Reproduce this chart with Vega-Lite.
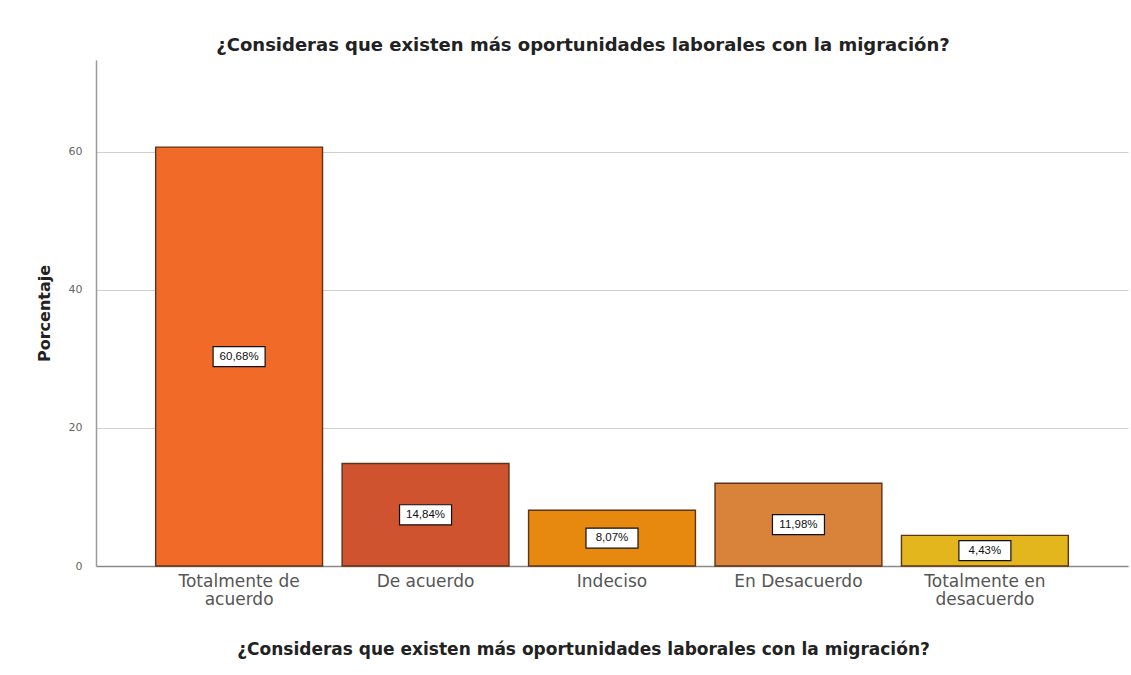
{
  "$schema": "https://vega.github.io/schema/vega-lite/v6.json",
  "width": 1032,
  "height": 506,
  "autosize": {"type": "none"},
  "padding": {"left": 96, "top": 60, "right": 3, "bottom": 109},
  "background": "white",
  "title": {
    "text": "¿Consideras que existen más oportunidades laborales con la migración?",
    "font": "DejaVu Sans",
    "fontSize": 18,
    "fontWeight": "bold",
    "color": "#222222",
    "anchor": "middle",
    "dx": -29,
    "offset": 5
  },
  "data": {
    "values": [
      {"Categoria": "Totalmente de acuerdo", "Porcentaje": 60.68, "Etiqueta": "60,68%"},
      {"Categoria": "De acuerdo", "Porcentaje": 14.84, "Etiqueta": "14,84%"},
      {"Categoria": "Indeciso", "Porcentaje": 8.07, "Etiqueta": "8,07%"},
      {"Categoria": "En Desacuerdo", "Porcentaje": 11.98, "Etiqueta": "11,98%"},
      {"Categoria": "Totalmente en desacuerdo", "Porcentaje": 4.43, "Etiqueta": "4,43%"}
    ]
  },
  "encoding": {
    "x": {
      "field": "Categoria",
      "type": "nominal",
      "sort": null,
      "scale": {"paddingInner": 0.105, "paddingOuter": 0.32},
      "axis": {
        "title": "¿Consideras que existen más oportunidades laborales con la migración?",
        "titleFont": "DejaVu Sans",
        "titleFontSize": 17,
        "titleFontWeight": "bold",
        "titleColor": "#222222",
        "titleX": 487,
        "titleY": 75,
        "titleAlign": "center",
        "titleBaseline": "top",
        "labelAngle": 0,
        "labelFont": "DejaVu Sans",
        "labelFontSize": 17,
        "labelColor": "#555555",
        "labelLineHeight": 18,
        "labelPadding": 7,
        "labelExpr": "datum.label == 'Totalmente de acuerdo' ? ['Totalmente de', 'acuerdo'] : datum.label == 'Totalmente en desacuerdo' ? ['Totalmente en', 'desacuerdo'] : datum.label",
        "ticks": false,
        "domainColor": "#8a8a8a",
        "domainWidth": 1.5,
        "grid": false
      }
    }
  },
  "layer": [
    {
      "mark": {"type": "bar", "stroke": "#5e3318", "strokeWidth": 1.4},
      "encoding": {
        "y": {
          "field": "Porcentaje",
          "type": "quantitative",
          "scale": {"domain": [0, 73.3], "nice": false},
          "axis": {
            "title": "Porcentaje",
            "titleFont": "DejaVu Sans",
            "titleFontSize": 16,
            "titleFontWeight": "bold",
            "titleColor": "#222222",
            "titlePadding": 16,
            "values": [0, 20, 40, 60],
            "labelFont": "DejaVu Sans",
            "labelFontSize": 11,
            "labelColor": "#666666",
            "labelPadding": 14,
            "ticks": false,
            "domainColor": "#9a9a9a",
            "domainWidth": 1.5,
            "grid": true,
            "gridColor": "#cfcfcf",
            "gridWidth": 1.2
          }
        },
        "color": {
          "field": "Categoria",
          "type": "nominal",
          "scale": {
            "domain": ["Totalmente de acuerdo", "De acuerdo", "Indeciso", "En Desacuerdo", "Totalmente en desacuerdo"],
            "range": ["#F26A28", "#D05330", "#E8890F", "#D8823A", "#E3B61E"]
          },
          "legend": null
        }
      }
    },
    {
      "mark": {
        "type": "point",
        "shape": "M-1,-0.385H1V0.385H-1Z",
        "size": 2704,
        "filled": true,
        "fill": "white",
        "stroke": "#111111",
        "strokeWidth": 1.2,
        "opacity": 1
      },
      "encoding": {
        "y": {
          "field": "Porcentaje",
          "type": "quantitative",
          "scale": {"domain": [0, 146.6], "nice": false},
          "axis": null
        }
      }
    },
    {
      "mark": {"type": "text", "font": "Liberation Sans", "fontSize": 11.5, "color": "#111111", "baseline": "middle", "align": "center"},
      "encoding": {
        "y": {
          "field": "Porcentaje",
          "type": "quantitative",
          "scale": {"domain": [0, 146.6], "nice": false},
          "axis": null
        },
        "text": {"field": "Etiqueta", "type": "nominal"}
      }
    }
  ],
  "resolve": {"scale": {"y": "independent"}},
  "config": {"view": {"stroke": null}}
}
